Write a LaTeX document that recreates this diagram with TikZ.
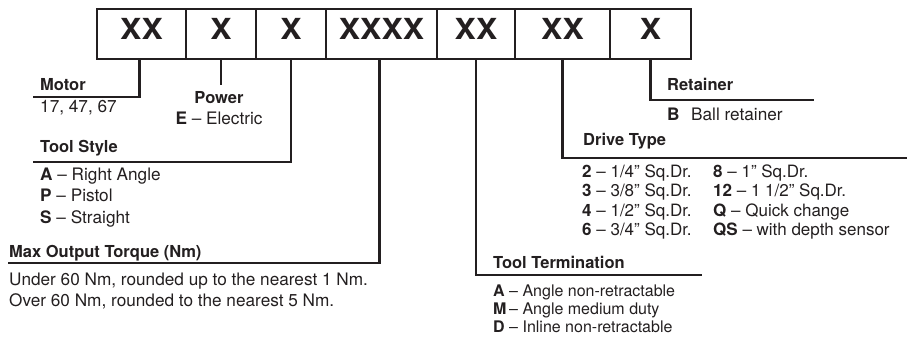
\documentclass[tikz,border=0pt]{standalone}
\usepackage{fontspec}
\setmainfont{TeX Gyre Heros}
\newfontfamily\bigfont[FakeStretch=1.1]{TeX Gyre Heros}
\definecolor{ink}{RGB}{35,31,32}
\begin{document}
\begin{tikzpicture}[x=1pt,y=-1pt,
  box/.style={draw=ink, line width=2.2pt, minimum height=50pt, inner sep=0pt},
  big/.style={font=\bigfont\fontsize{29}{30}\selectfont\bfseries, text=ink, inner sep=0pt, anchor=base},
  conn/.style={draw=ink, line width=2.5pt},
  head/.style={font=\fontsize{16.5}{19}\selectfont\bfseries, text=ink, inner sep=0pt, anchor=base west},
  item/.style={font=\fontsize{17.2}{20}\selectfont, text=ink, inner sep=0pt, anchor=base west},
  smallitem/.style={item, font=\fontsize{16}{19}\selectfont},
  drvitem/.style={item, font=\fontsize{17}{19}\selectfont},
]
\useasboundingbox (0,0) rectangle (917,339);
% code boxes
\node[box, minimum width=89pt]  (b1) at (141.5,34) {};
\node[box, minimum width=70pt]  (b2) at (221,34) {};
\node[box, minimum width=70pt]  (b3) at (291,34) {};
\node[box, minimum width=111pt] (b4) at (381.5,34) {};
\node[box, minimum width=78pt]  (b5) at (476,34) {};
\node[box, minimum width=95pt]  (b6) at (562.5,34) {};
\node[box, minimum width=81pt]  (b7) at (650.5,34) {};
\node[big] (t1) at ([yshift=-5.3pt]b1.center) {XX};
\node[big] (t2) at ([yshift=-5.3pt]b2.center) {X};
\node[big] (t3) at ([yshift=-5.3pt]b3.center) {X};
\node[big] (t4) at ([yshift=-5.3pt]b4.center) {XXXX};
\node[big] (t5) at ([yshift=-5.3pt]b5.center) {XX};
\node[big] (t6) at ([yshift=-5.3pt]b6.center) {XX};
\node[big] (t7) at ([yshift=-5.3pt]b7.center) {X};
% connector ends
\coordinate (mL) at (33,97);
\coordinate (pE) at (221,85);
\coordinate (tsL) at (33,162);
\coordinate (tqL) at (8,263);
\coordinate (ttR) at (702,275);
\coordinate (dtR) at (907,158);
\coordinate (rtR) at (814,100);
\draw[conn] ([xshift=-2pt]b1.south) |- (mL);
\draw[conn] (b2.south) -- (pE);
\draw[conn] (b3.south) |- (tsL);
\draw[conn] ([xshift=-2pt]b4.south) |- (tqL);
\draw[conn] (b5.south) |- (ttR);
\draw[conn] (b6.south) |- (dtR);
\draw[conn] (b7.south) |- (rtR);
% Motor
\node[head] (mh) at (40,91) {Motor};
\node[item] (m1) at (40,113) {17, 47, 67};
% Power
\node[head, anchor=base] (ph) at (219,104) {Power};
\node[item, anchor=base] (p1) at (219,125) {\textbf{E} -- Electric};
% Tool style
\node[head] (tsh) at (40,153) {Tool Style};
\node[item] (ts1) at (40,180) {\textbf{A} -- Right Angle};
\node[item] (ts2) at (40,201.5) {\textbf{P} -- Pistol};
\node[item] (ts3) at (40,223) {\textbf{S} -- Straight};
% Torque
\node[head] (tqh) at (9,257) {Max Output Torque (Nm)};
\node[item] (tq1) at (9,285) {Under 60 Nm, rounded up to the nearest 1 Nm.};
\node[item] (tq2) at (9,306) {Over 60 Nm, rounded to the nearest 5 Nm.};
% Tool termination
\node[head] (tth) at (493,268) {Tool Termination};
\node[smallitem] (tt1) at (493,296) {\makebox[16pt][l]{\textbf{A}}--~Angle non-retractable};
\node[smallitem] (tt2) at (493,314) {\makebox[16pt][l]{\textbf{M}}--~Angle medium duty};
\node[smallitem] (tt3) at (493,332) {\makebox[16pt][l]{\textbf{D}}--~Inline non-retractable};
% Drive type
\node[head] (dth) at (583,146) {Drive Type};
\node[drvitem] (d1) at (582,177) {\textbf{2} -- 1/4” Sq.Dr.};
\node[drvitem] (d2) at (582,196.5) {\textbf{3} -- 3/8” Sq.Dr.};
\node[drvitem] (d3) at (582,216) {\textbf{4} -- 1/2” Sq.Dr.};
\node[drvitem] (d4) at (582,235.5) {\textbf{6} -- 3/4” Sq.Dr.};
\node[drvitem] (d5) at (713,177) {\textbf{8} -- 1” Sq.Dr.};
\node[drvitem] (d6) at (713,196.5) {\textbf{12} -- 1 1/2” Sq.Dr.};
\node[drvitem] (d7) at (713,216) {\textbf{Q} -- Quick change};
\node[drvitem] (d8) at (713,235.5) {\textbf{QS} -- with depth sensor};
% Retainer
\node[head] (rth) at (667,91) {Retainer};
\node[item] (rt1) at (667,121) {\makebox[24pt][l]{\textbf{B}}Ball retainer};
\end{tikzpicture}
\end{document}
